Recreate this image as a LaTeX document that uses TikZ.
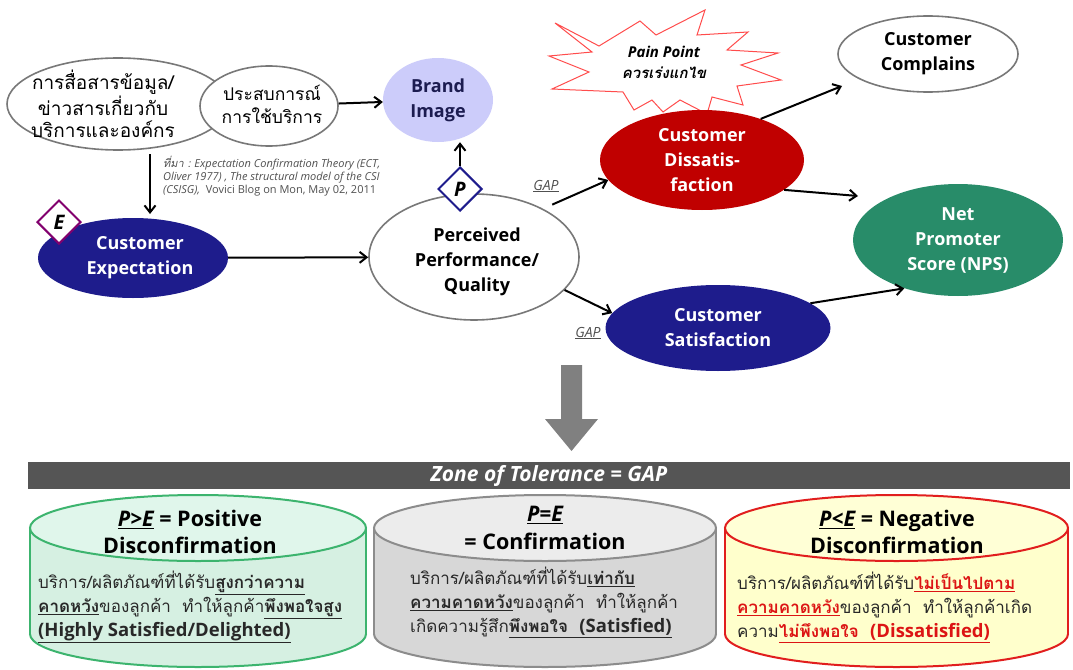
\documentclass[tikz,border=0pt]{standalone}
\usepackage{fontspec}
\setmainfont{Open Sans}
\newfontfamily\thai[Script=Thai]{Loma}
\usetikzlibrary{shapes.geometric,arrows.meta,calc}
\definecolor{navy}{RGB}{30,28,140}
\definecolor{darkred}{RGB}{192,0,0}
\definecolor{npsgreen}{RGB}{40,140,105}
\definecolor{brandfill}{RGB}{204,204,250}
\definecolor{brandtext}{RGB}{28,28,80}
\definecolor{purpleE}{RGB}{130,0,110}
\definecolor{outl}{RGB}{120,120,120}
\definecolor{cylg}{RGB}{214,240,226}
\definecolor{cylgt}{RGB}{224,246,235}
\definecolor{cylgb}{RGB}{60,180,110}
\definecolor{cyls}{RGB}{215,215,215}
\definecolor{cylst}{RGB}{236,236,236}
\definecolor{cylsb}{RGB}{140,140,140}
\definecolor{cyly}{RGB}{255,255,204}
\definecolor{cylyt}{RGB}{255,255,214}
\definecolor{cylyb}{RGB}{225,30,30}
\definecolor{bargray}{RGB}{85,85,85}
\definecolor{arrgray}{RGB}{128,128,128}
\definecolor{citegray}{RGB}{80,80,80}
\definecolor{bodytext}{RGB}{40,40,40}
\definecolor{redtext}{RGB}{220,20,20}
\newcommand\fsz[2]{\fontsize{#1}{#2}\selectfont}
\tikzset{
  ellbox/.style={ellipse, inner sep=0pt},
  whiteell/.style={ellbox, draw=outl, line width=1.6pt, fill=white},
  txt/.style={align=center, inner sep=0pt},
  boldtxt/.style={txt, font=\fsz{18}{25}\bfseries},
  arr/.style={-{Straight Barb[length=7pt,width=11pt]}, line width=2pt, black},
  gaplbl/.style={inner sep=0pt, text=citegray, font=\fsz{14}{16}\itshape},
  diam/.style={diamond, fill=white, line width=2pt, minimum width=44pt, minimum height=44pt, inner sep=0pt, font=\fsz{20}{22}\bfseries\itshape},
  bodyline/.style={align=left, inner sep=0pt, anchor=north west, text=bodytext, font=\thai\fsz{17}{24}}
}
\newcommand\latb[1]{{\rmfamily\bfseries\fontsize{18.5}{24}\selectfont #1}}
\begin{document}
\begin{tikzpicture}[x=1pt,y=-1pt]
\useasboundingbox (0,0) rectangle (1073,669);
\fill[white] (0,0) rectangle (1073,669);

% ---- top left ellipses
\node[whiteell, minimum width=222pt, minimum height=92pt] (ellA) at (118,104) {};
\node[txt, font=\thai\fsz{19}{22.5}] (ellAt) at (103,104) {การสื่อสารข้อมูล/\\ข่าวสารเกี่ยวกับ\\บริการและองค์กร};
\node[whiteell, minimum width=138pt, minimum height=80pt] (ellB) at (269,106) {};
\node[txt, font=\thai\fsz{17.5}{23}] (ellBt) at (272,104) {ประสบการณ์\\การใช้บริการ};

% ---- brand image
\node[ellbox, fill=brandfill, minimum width=110pt, minimum height=84pt] (brand) at (438,100) {};
\node[boldtxt, text=brandtext] (brandt) at (brand) {Brand\\Image};

% ---- citation
\node[anchor=north west, align=left, inner sep=0pt, text=citegray, font=\fsz{11}{13}\itshape] (cite) at (163,156)
 {{\thai ที่มา :} Expectation Confirmation Theory (ECT,\\Oliver 1977) , The structural model of the CSI\\(CSISG),\ \ {\upshape Vovici Blog on Mon, May 02, 2011}};
\coordinate (d1) at (150,154);
\coordinate (d2) at (150,214);

% ---- customer expectation
\node[ellbox, fill=navy, minimum width=190pt, minimum height=80pt] (exp) at (133,258) {};
\node[boldtxt, text=white] (expt) at (140,258) {Customer\\Expectation};
\node[diam, draw=purpleE] (Ed) at (59,222) {E};

% ---- perceived performance
\node[whiteell, minimum width=210pt, minimum height=126pt] (perc) at (474,257) {};
\node[boldtxt] (perct) at (477,262) {Perceived\\Performance/\\Quality};
\node[diam, draw=navy] (Pd) at (460,189) {P};

% ---- starburst
\draw[draw=red!70, line width=1pt, fill=white]
  (555,23) -- (599,46) -- (640,21) -- (656,35) -- (705,10) -- (697,35)
  -- (748,32) -- (727,50) -- (778,53) -- (741,65) -- (781,80) -- (737,86)
  -- (743,105) -- (712,97) -- (707,114) -- (680,100) -- (663,112) -- (652,100)
  -- (634,110) -- (623,92) -- (552,89) -- (589,72) -- (549,56) -- (592,52) -- cycle;
\node[txt, font=\fsz{15}{21}\bfseries\itshape] (paint) at (664,62) {Pain Point\\{\thai ควรเร่งแกไข}};

% ---- dissatisfaction
\node[ellbox, fill=darkred, minimum width=204pt, minimum height=100pt] (dis) at (702,160) {};
\node[boldtxt, text=white] (dist) at (702,160) {Customer\\Dissatis-\\faction};

% ---- complains
\node[whiteell, minimum width=180pt, minimum height=76pt] (comp) at (928,54) {};
\node[boldtxt] (compt) at (928,54) {Customer\\Complains};
\coordinate (compin) at ($(comp.center)+(-86,32)$);

% ---- NPS
\node[ellbox, fill=npsgreen, minimum width=210pt, minimum height=112pt] (nps) at (958,240) {};
\node[boldtxt, text=white] (npst) at (958,240) {Net\\Promoter\\Score (NPS)};
\coordinate (npsin) at ($(nps.center)+(-100,-44)$);

% ---- satisfaction
\node[ellbox, fill=navy, minimum width=225pt, minimum height=86pt] (sat) at (718,328) {};
\node[boldtxt, text=white] (satt) at (718,328) {Customer\\Satisfaction};

% ---- gap labels
\node[gaplbl] (gap1) at (546,186) {\underline{GAP}};
\node[gaplbl] (gap2) at (588,333) {\underline{GAP}};

% ---- connectors
\draw[arr] (ellB) -- (brand);
\draw[arr] (Pd.north) -- (Pd.north |- brand.south);
\draw[arr] (d1) -- (d2);
\draw[arr] (exp) -- (perc);
\draw[arr, shorten <=10pt] (perc.35) -- (dis.192);
\draw[arr] (perc.-20) -- (sat.172);
\draw[arr] (dis.35) -- (compin);
\draw[arr] (dis.-20) -- (npsin);
\draw[arr] (sat.15) -- (nps.222);

% ---- big gray arrow
\fill[arrgray] (561,365) -- (582,365) -- (582,419) -- (598,419) -- (571.5,451) -- (545,419) -- (561,419) -- cycle;

% ---- bar
\node[fill=bargray, minimum width=1042pt, minimum height=27pt, inner sep=0pt, text=white, font=\fsz{21}{22}\bfseries\itshape] (bar) at (549,475.5) {Zone of Tolerance = GAP};

% ---- cylinders
\foreach \xa/\xb/\bodyc/\topc/\edgec in {30/366/cylg/cylgt/cylgb, 374/716/cyls/cylst/cylsb, 725/1068/cyly/cylyt/cylyb}{
  \pgfmathsetmacro\cxx{(\xa+\xb)/2}
  \pgfmathsetmacro\rxx{(\xb-\xa)/2}
  \fill[\bodyc] (\xa,528) rectangle (\xb,634);
  \fill[\bodyc] (\cxx,634) ellipse[x radius=\rxx, y radius=33];
  \draw[\edgec, line width=2pt] (\xa,528) -- (\xa,634) (\xb,528) -- (\xb,634);
  \begin{scope}
    \clip (\xa-5,634) rectangle (\xb+5,690);
    \draw[\edgec, line width=2pt] (\cxx,634) ellipse[x radius=\rxx, y radius=33];
  \end{scope}
  \filldraw[fill=\topc, draw=\edgec, line width=2pt] (\cxx,528) ellipse[x radius=\rxx, y radius=33];
}

\node[txt, font=\fsz{21.5}{27}\bfseries] (h1) at (190,532) {\underline{\itshape P>E} = Positive\\Disconfirmation};
\node[txt, font=\fsz{21.5}{28}\bfseries] (h2) at (545,528) {\underline{\itshape P=E}\\= Confirmation};
\node[txt, font=\fsz{21.5}{27}\bfseries] (h3) at (897,532) {\underline{\itshape P<E} = Negative\\Disconfirmation};

\node[bodyline] (b1) at (38,571) {บริการ/ผลิตภัณฑ์ที่ได้รับ\textbf{\underline{สูงกว่าความ}}\\\textbf{\underline{คาดหวัง}}ของลูกค้า\ \ ทำให้ลูกค้า\textbf{\underline{พึงพอใจสูง}}\\\underline{\latb{(Highly Satisfied/Delighted)}}};
\node[bodyline] (b2) at (410,567) {บริการ/ผลิตภัณฑ์ที่ได้รับ\textbf{\underline{เท่ากับ}}\\\textbf{\underline{ความคาดหวัง}}ของลูกค้า\ \ ทำให้ลูกค้า\\เกิดความรู้สึก\textbf{\underline{พึงพอใจ\ \ \latb{(Satisfied)}}}};
\node[bodyline] (b3) at (737,572) {บริการ/ผลิตภัณฑ์ที่ได้รับ\textcolor{redtext}{\textbf{\underline{ไม่เป็นไปตาม}}}\\\textcolor{redtext}{\textbf{\underline{ความคาดหวัง}}}ของลูกค้า\ \ ทำให้ลูกค้าเกิด\\ความ\textcolor{redtext}{\textbf{\underline{ไม่พึงพอใจ\ \ \latb{(Dissatisfied)}}}}};
\end{tikzpicture}
\end{document}
